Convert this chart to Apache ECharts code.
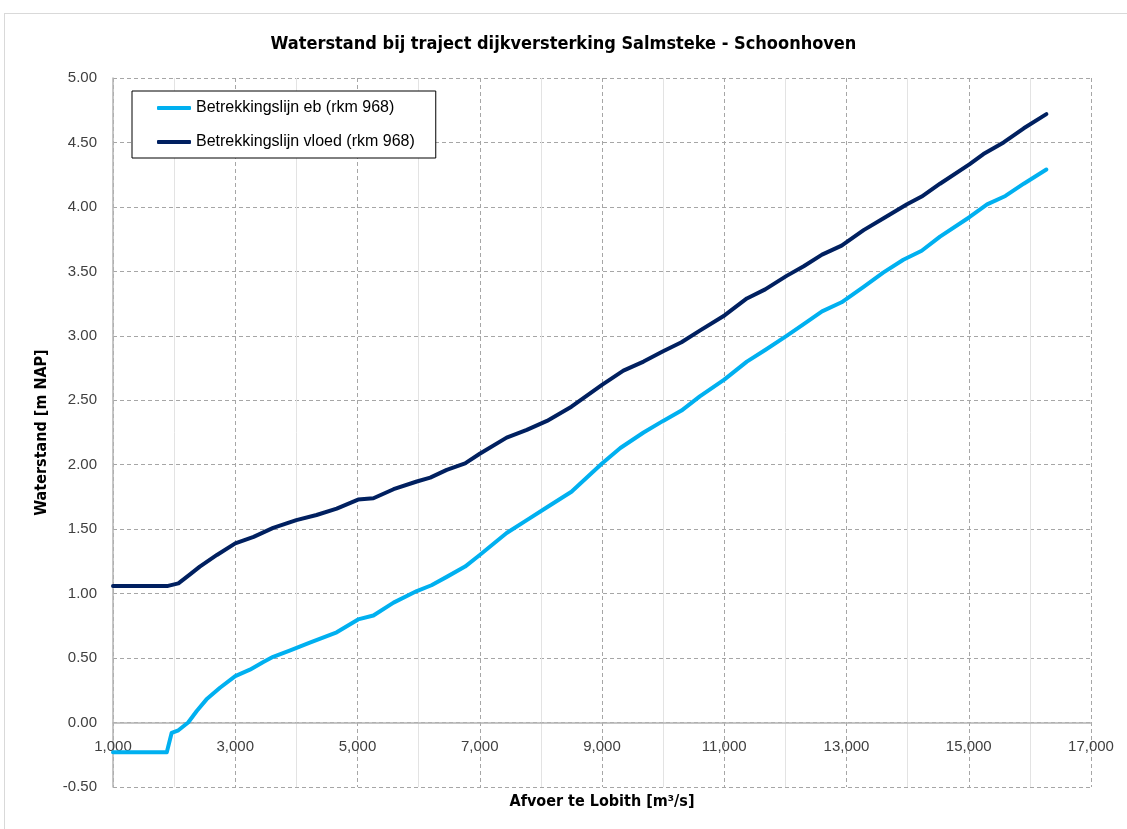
<!DOCTYPE html>
<html>
<head>
<meta charset="utf-8">
<script src="https://cdn.jsdelivr.net/npm/echarts@6/dist/echarts.min.js"></script>
<style>
  html, body { margin: 0; padding: 0; background: #fff; }
  #frame {
    position: absolute; left: 4px; top: 13px; width: 1130px; height: 830px;
    border-left: 1px solid #d9d9d9; border-top: 1px solid #d9d9d9;
  }
  #chart { position: absolute; left: 0; top: 0; width: 1127px; height: 829px; }
</style>
</head>
<body>
<div id="frame"></div>
<div id="chart"></div>
<script>
// afvoer (m3/s) and waterstand (m NAP)
const ebX = [1000, 1880, 1960, 2070, 2230, 2370, 2530, 2750, 3000, 3240, 3460, 3620, 3900, 4220, 4660,
  5010, 5260, 5590, 5970, 6210, 6460, 6760, 7000, 7440, 7770, 8100, 8500, 9000, 9300, 9680,
  10000, 10300, 10600, 11000, 11370, 11670, 12020, 12300, 12600, 12920, 13280, 13600, 13930,
  14230, 14530, 15010, 15300, 15600, 15900, 16270];
const ebY = [-0.23, -0.23, -0.08, -0.06, 0.0, 0.09, 0.18, 0.27, 0.36, 0.41, 0.47, 0.51, 0.56, 0.62, 0.70,
  0.80, 0.83, 0.93, 1.02, 1.065, 1.13, 1.21, 1.30, 1.47, 1.57, 1.67, 1.79, 2.01, 2.13, 2.25,
  2.34, 2.42, 2.53, 2.66, 2.80, 2.89, 3.00, 3.09, 3.19, 3.26, 3.38, 3.49, 3.59,
  3.66, 3.77, 3.92, 4.02, 4.085, 4.18, 4.29];

const vloedX = [1000, 1900, 2070, 2260, 2420, 2700, 3000, 3300, 3620, 4000, 4330, 4660, 5010, 5260,
  5590, 5970, 6190, 6460, 6760, 7000, 7440, 7770, 8100, 8500, 9000, 9350, 9680, 10000, 10300,
  10600, 11010, 11370, 11670, 12020, 12300, 12600, 12920, 13280, 13600, 13990, 14230, 14530,
  15010, 15240, 15570, 15900, 16270];
const vloedY = [1.06, 1.06, 1.08, 1.15, 1.21, 1.30, 1.39, 1.44, 1.51, 1.57, 1.61, 1.66, 1.73, 1.74,
  1.81, 1.87, 1.90, 1.96, 2.01, 2.085, 2.21, 2.27, 2.34, 2.45, 2.62, 2.73, 2.80, 2.88, 2.95,
  3.04, 3.16, 3.29, 3.36, 3.465, 3.54, 3.63, 3.70, 3.82, 3.91, 4.02, 4.08, 4.18,
  4.33, 4.41, 4.50, 4.61, 4.72];

const seriesNames = ["Betrekkingslijn eb (rkm 968)", "Betrekkingslijn vloed (rkm 968)"];
const colors = ["#00b0f0", "#002060"];

const pairs = (xs, ys) => xs.map((x, i) => [x, ys[i]]);

const narrow = "'DejaVu Sans Condensed', 'Liberation Sans', sans-serif";
const plain = "'Liberation Sans', Arial, sans-serif";

const chart = echarts.init(document.getElementById("chart"), null, { renderer: "canvas" });

const option = {
  animation: false,
  backgroundColor: "transparent",
  title: {
    text: "Waterstand bij traject dijkversterking Salmsteke - Schoonhoven",
    left: "center",
    top: 35,
    padding: 0,
    textStyle: { fontFamily: narrow, fontSize: 18, fontWeight: "bold", color: "#000" },
  },
  legend: {
    orient: "vertical",
    left: 132,
    top: 91,
    padding: [9, 21, 8, 25],
    itemGap: 18,
    itemWidth: 34,
    itemHeight: 4,
    icon: "roundRect",
    borderColor: "#000",
    borderWidth: 1,
    backgroundColor: "#fff",
    textStyle: { fontFamily: plain, fontSize: 16, color: "#000" },
    data: seriesNames,
  },
  grid: { left: 113, right: 36, top: 78, bottom: 42, outerBoundsMode: "none" },
  xAxis: {
    type: "value",
    min: 1000,
    max: 17000,
    interval: 2000,
    offset: 0,
    name: "Afvoer te Lobith [m³/s]",
    nameLocation: "middle",
    nameGap: 71,
    nameTextStyle: { fontFamily: narrow, fontSize: 16, fontWeight: "bold", color: "#000" },
    axisLine: { show: true, onZero: false, lineStyle: { color: "#b3b3b3", width: 1.5 } },
    axisTick: { show: false },
    axisLabel: {
      margin: 17,
      fontFamily: plain,
      fontSize: 15,
      color: "#404040",
      formatter: (v) => v.toLocaleString("en-US"),
    },
    splitLine: { show: true, lineStyle: { color: "#a6a6a6", type: [4, 3], width: 1 } },
    minorTick: { show: false, splitNumber: 2 },
    minorSplitLine: { show: true, lineStyle: { color: "#e3e3e3", width: 1 } },
  },
  yAxis: {
    type: "value",
    min: -0.5,
    max: 5,
    interval: 0.5,
    name: "Waterstand [m NAP]",
    nameLocation: "middle",
    nameGap: 63,
    nameTextStyle: { fontFamily: narrow, fontSize: 16, fontWeight: "bold", color: "#000" },
    axisLine: { show: true, onZero: false, lineStyle: { color: "#b3b3b3", width: 1.5 } },
    axisTick: { show: false },
    axisLabel: {
      margin: 16,
      fontFamily: plain,
      fontSize: 15,
      color: "#404040",
      formatter: (v) => v.toFixed(2),
    },
    splitLine: { show: true, lineStyle: { color: "#a6a6a6", type: [4, 3], width: 1 } },
  },
  tooltip: { show: false },
  series: [
    {
      name: seriesNames[0],
      type: "line",
      data: pairs(ebX, ebY),
      symbol: "none",
      color: colors[0],
      lineStyle: { width: 4, color: colors[0], cap: "round", join: "round" },
      z: 3,
    },
    {
      name: seriesNames[1],
      type: "line",
      data: pairs(vloedX, vloedY),
      symbol: "none",
      color: colors[1],
      lineStyle: { width: 4, color: colors[1], cap: "round", join: "round" },
      z: 3,
    },
  ],
};

chart.setOption(option);

// the x axis crosses at waterstand 0: lift it (line, labels, name) to that level
const yZero = chart.convertToPixel({ yAxisIndex: 0 }, 0);
const yMin = chart.convertToPixel({ yAxisIndex: 0 }, option.yAxis.min);
chart.setOption({ xAxis: { offset: yZero - yMin } });
</script>
</body>
</html>
